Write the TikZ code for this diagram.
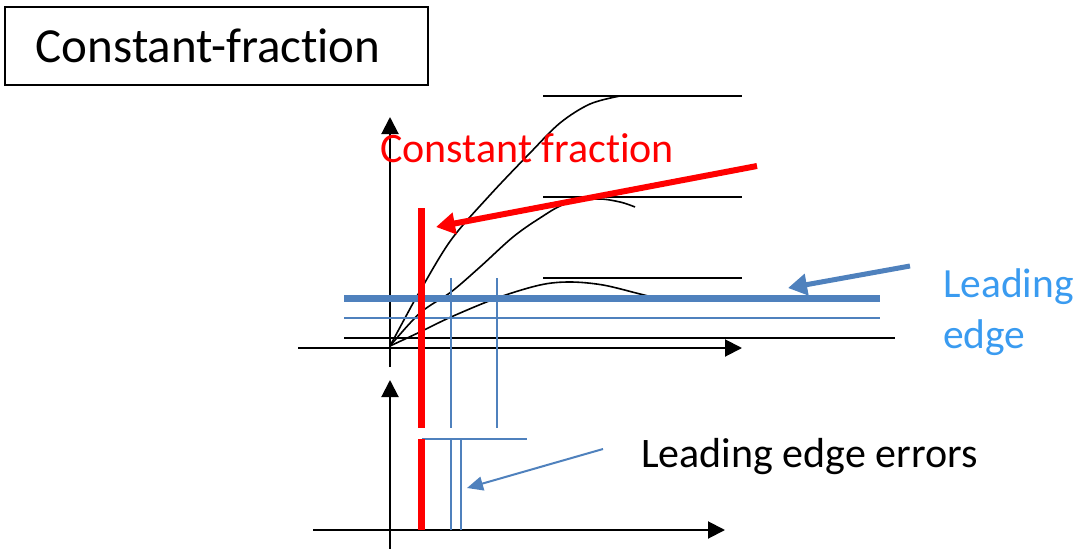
\documentclass[tikz,border=0pt]{standalone}
\usepackage{fontspec}
\setmainfont[Ligatures=NoCommon]{Carlito}
\usetikzlibrary{arrows.meta}
\definecolor{cfred}{RGB}{255,0,0}
\definecolor{leblue}{RGB}{79,129,189}
\definecolor{letext}{RGB}{58,155,240}

\begin{document}
\begin{tikzpicture}[x=1pt,y=-1pt,
  axis/.style={line width=2pt,-{Triangle[length=17pt,width=17pt]}},
  level/.style={line width=1.8pt},
  pulse/.style={line width=1.6pt},
  cfline/.style={cfred,line width=7pt},
  thresh/.style={leblue,line width=7pt},
  thinblue/.style={leblue,line width=1.6pt},
  lbl/.style={inner sep=0pt,anchor=base west}]
\useasboundingbox (0,0) rectangle (1080,549);

% title box
\node[draw,line width=1.5pt,anchor=north west,inner xsep=31pt,inner ysep=0pt,
      text width=361pt,minimum height=78pt,align=left,
      font=\fontsize{49}{58}\selectfont] (title) at (4,6) {Constant-fraction};

% upper plot: axes
\coordinate (ya1) at (390,367); \coordinate (yb1) at (390,117);
\coordinate (xa1) at (298,348); \coordinate (xb1) at (742,348);
\draw[axis] (ya1) -- (yb1);
\draw[axis] (xa1) -- (xb1);

% amplitude levels
\draw[level] (543,96) -- (742,96);
\draw[level] (543,197) -- (742,197);
\draw[level] (543,278) -- (742,278);
\draw[level] (344,338) -- (895,338);

% three pulses of different amplitude
\draw[pulse] plot[smooth,tension=0.55] coordinates
  {(390,346) (405,318) (420,291) (451,240) (490,195) (530,153) (560,123) (590,104) (620,96)};
\draw[pulse] plot[smooth,tension=0.55] coordinates
  {(390,346) (420,313) (451,292) (480,267) (513,237) (540,218) (565,204) (597,199) (620,202) (635,207)};
\draw[pulse] plot[smooth,tension=0.55] coordinates
  {(390,346) (420,332) (451,317) (497,298) (540,285) (570,282) (603,285) (640,294) (660,299)};

% leading-edge thresholds
\draw[thinblue] (344,318) -- (880,318);
\draw[thresh] (344,298) -- (880,298);

% crossing times
\draw[thinblue] (451,278) -- (451,428);
\draw[thinblue] (497,278) -- (497,428);
\draw[cfline] (421,208) -- (421,428);

% lower plot: axes
\coordinate (ya2) at (390,549); \coordinate (yb2) at (390,380);
\coordinate (xa2) at (313,530); \coordinate (xb2) at (725,530);
\draw[axis] (ya2) -- (yb2);
\draw[axis] (xa2) -- (xb2);

% timing outputs
\draw[thinblue] (422,439) -- (527,439);
\draw[thinblue] (451,439) -- (451,530);
\draw[thinblue] (461,439) -- (461,530);
\draw[cfline] (421,439) -- (421,530);

% labels
\node[lbl,text=cfred,font=\fontsize{42}{50}\selectfont] (cflabel) at (380,162) {Constant fraction};
\node[lbl,text=letext,align=left,font=\fontsize{41.5}{51}\selectfont] (lelabel) at (943,348) {Leading\\edge};
\node[lbl,font=\fontsize{42}{50}\selectfont] (errlabel) at (641,467) {Leading edge errors};

% pointers
\coordinate (cfs) at (757,166); \coordinate (cft) at (436,227);
\draw[cfred,line width=6pt,-{Triangle[length=19pt,width=21pt]}] (cfs) -- (cft);
\coordinate (les) at (910,266); \coordinate (let) at (788,288);
\draw[leblue,line width=5pt,-{Triangle[length=19pt,width=21pt]}] (les) -- (let);
\coordinate (ers) at (603,449); \coordinate (ert) at (467,488);
\draw[leblue,line width=2pt,-{Triangle[length=16pt,width=14pt]}] (ers) -- (ert);
\end{tikzpicture}
\end{document}
